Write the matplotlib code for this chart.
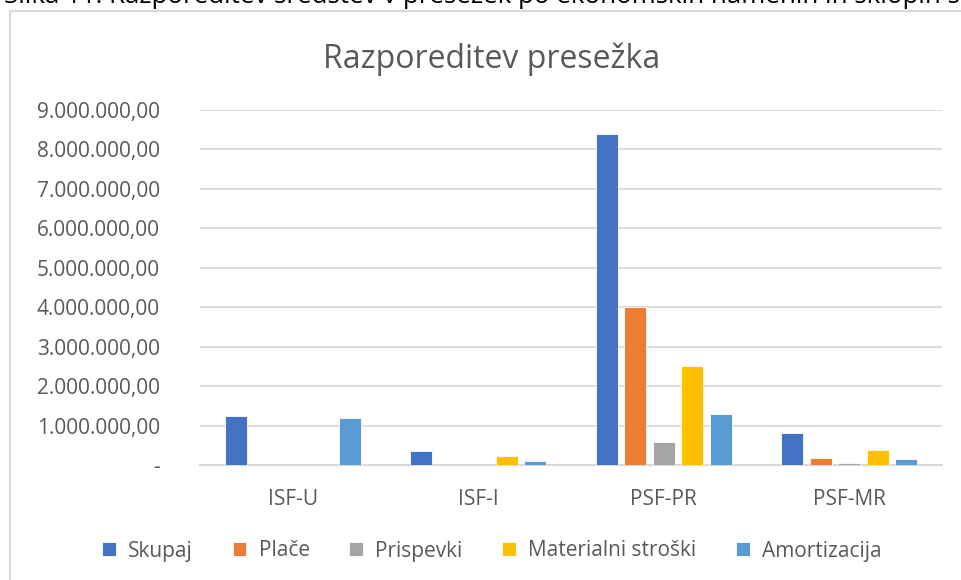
import matplotlib
matplotlib.use('Agg')
import matplotlib.pyplot as plt
from matplotlib.lines import Line2D
import numpy as np

plt.rcParams['font.family'] = ['Open Sans', 'DejaVu Sans']

categories = ['ISF-U', 'ISF-I', 'PSF-PR', 'PSF-MR']
series_names = ['Skupaj', 'Plače', 'Prispevki', 'Materialni stroški', 'Amortizacija']
skupaj = [1230000, 360000, 8400000, 800000]
place = [0, 0, 4000000, 190000]
prispevki = [0, 0, 580000, 60000]
materialni = [0, 220000, 2500000, 380000]
amortizacija = [1190000, 90000, 1290000, 150000]
colors = ['#4472C4', '#ED7D31', '#A5A5A5', '#FFC000', '#5B9BD5']
yticks = [0, 1000000, 2000000, 3000000, 4000000, 5000000, 6000000, 7000000, 8000000, 9000000]

W, H = 962, 580
fig = plt.figure(figsize=(W / 100, H / 100), dpi=100)
ax = fig.add_axes([200 / W, 1 - 465 / H, 742 / W, 355 / H])

txt = '#595959'
grid = '#D9D9D9'

x = np.arange(len(categories))
step = 0.1536
width = 0.119
all_series = [skupaj, place, prispevki, materialni, amortizacija]
for i, (name, vals) in enumerate(zip(series_names, all_series)):
    offs = (i - 2) * step
    ax.bar(x + offs, vals, width=width, color=colors[i], label=name,
           edgecolor='white', linewidth=0.6, zorder=3)

ax.set_xlim(-0.5, len(categories) - 0.5)
ax.set_ylim(0, 9000000)
ax.set_yticks(yticks)


def fmt(v):
    if v == 0:
        return '-'
    return '{:,.2f}'.format(v).replace(',', 'X').replace('.', ',').replace('X', '.')


ax.set_yticklabels([fmt(v) for v in yticks])
ax.set_xticks(x)
ax.set_xticklabels(categories)
ax.tick_params(axis='both', length=0, labelsize=15, colors=txt)
ax.tick_params(axis='y', pad=29)
ax.tick_params(axis='x', pad=17)

ax.grid(axis='y', color=grid, linewidth=1.3, zorder=0)
for s in ['top', 'right', 'left']:
    ax.spines[s].set_visible(False)
ax.spines['bottom'].set_color(grid)
ax.spines['bottom'].set_linewidth(1.5)
ax.set_facecolor('none')

fig.text(492 / W, 1 - 59 / H, 'Razporeditev presežka', ha='center', va='center',
         fontsize=23, color=txt)

leg = fig.legend(loc='center', bbox_to_anchor=(492 / W, 1 - 551 / H), ncol=5,
                 frameon=False, fontsize=15, handlelength=0.65, handleheight=0.65,
                 handletextpad=0.6, columnspacing=1.9, labelcolor=txt)

# chart frame (only left and top edges are in view)
fig.add_artist(Line2D([10 / W, 10 / W], [0, 1 - 11 / H], color=grid, linewidth=1.5))
fig.add_artist(Line2D([10 / W, 1], [1 - 11 / H, 1 - 11 / H], color=grid, linewidth=1.5))

# caption above the chart, cut off by the top edge
fig.text(4 / W, 1 - 3 / H,
         'Slika 11: Razporeditev sredstev v presežek po ekonomskih namenih in sklopih sredstev',
         ha='left', va='baseline', fontsize=18.6, color='black')

fig.savefig('out.png', dpi=100)
